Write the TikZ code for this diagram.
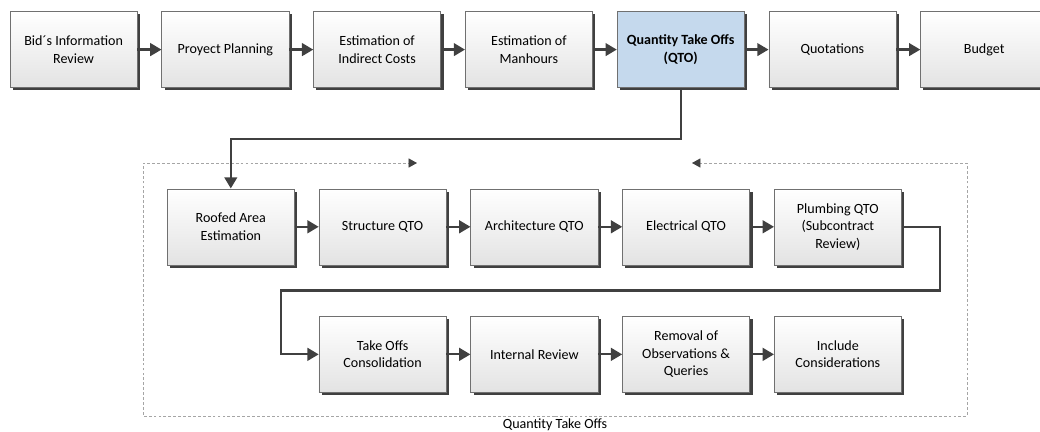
\documentclass[tikz,border=0pt]{standalone}
\usepackage{fontspec}
\setmainfont{Carlito}
\usetikzlibrary{positioning, arrows.meta, calc, shadows}
\definecolor{boxline}{RGB}{112,112,112}
\definecolor{arrowgray}{RGB}{64,64,64}
\definecolor{qtoblue}{RGB}{197,217,237}
\definecolor{framegray}{RGB}{165,165,165}
\tikzset{
  takeoffs/.style={
	node distance=0.6cm, % gap between two boxes of a row
	every node/.style={font=\fontsize{10}{12.5}\selectfont},
	process/.style={draw=boxline, top color=white, bottom color=black!11, % light gray box
		minimum width=3.18cm, minimum height=1.9cm, inner sep=2pt, align=center,
		drop shadow={shadow xshift=2pt, shadow yshift=-2pt, fill=black!75, opacity=1}},
	current/.style={process, top color=qtoblue, bottom color=qtoblue, % the blue box
		font=\fontsize{10}{12.5}\selectfont\bfseries},
	flow/.style={draw=arrowgray, line width=1.6pt, -{Triangle[length=8pt,width=9pt]}}, % thick arrows
	frame/.style={draw=framegray, line width=0.6pt, dash pattern=on 2pt off 1.5pt,
		-{Triangle[length=6pt,width=6.5pt,color=arrowgray]}},
  }
}

\begin{document}
\begin{tikzpicture}[takeoffs]
\useasboundingbox (0,0) rectangle (26,-10.8);
% main process
\node[process] at (1.84,-1.24) (bid) {Bid´s Information\\Review};
\node[process, right=of bid] (plan) {Proyect Planning};
\node[process, right=of plan] (indirect) {Estimation of\\Indirect Costs};
\node[process, right=of indirect] (manhours) {Estimation of\\Manhours};
\node[current, right=of manhours] (qto) {Quantity Take Offs\\(QTO)};
\node[process, right=of qto] (quote) {Quotations};
\node[process, right=of quote] (budget) {Budget};
% quantity take offs
\node[process] at (5.77,-5.67) (roof) {Roofed Area\\Estimation};
\node[process, right=of roof] (struct) {Structure QTO};
\node[process, right=of struct] (arch) {Architecture QTO};
\node[process, right=of arch] (elec) {Electrical QTO};
\node[process, right=of elec] (plumb) {Plumbing QTO\\(Subcontract\\Review)};
\node[process, below=1.275cm of struct] (take) {Take Offs\\Consolidation};
\node[process, right=of take] (internal) {Internal Review};
\node[process, right=of internal] (removal) {Removal of\\Observations \&\\Queries};
\node[process, right=of removal] (include) {Include\\Considerations};
% dashed frame
\coordinate (frameSW) at (3.575,-10.4);
\coordinate (frameSE) at (24.175,-10.4);
\coordinate (frameL) at (10.425,-4.075);
\coordinate (frameR) at (17.3,-4.075);
\draw[frame] ($(frameSW)!.5!(frameSE)$) -- (frameSW) |- (frameL);
\draw[frame] ($(frameSW)!.5!(frameSE)$) -- (frameSE) |- (frameR);
\node[below=1pt of $(frameSW)!.5!(frameSE)$, inner sep=1pt] (framelabel) {Quantity Take Offs};
\draw[flow] (bid) -- (plan);
\draw[flow] (plan) -- (indirect);
\draw[flow] (indirect) -- (manhours);
\draw[flow] (manhours) -- (qto);
\draw[flow] (qto) -- (quote);
\draw[flow] (quote) -- (budget);
\draw[flow] (qto.south) -- ++(0,-1.275) -| (roof.north);
\draw[flow] (roof) -- (struct);
\draw[flow] (struct) -- (arch);
\draw[flow] (arch) -- (elec);
\draw[flow] (elec) -- (plumb);
\draw[flow] (plumb.east) -- ++(0.95,0) |- ($(struct.south)!.5!(take.north)$)
	-| ([xshift=-0.95cm]take.west) -- (take.west);
\draw[flow] (take) -- (internal);
\draw[flow] (internal) -- (removal);
\draw[flow] (removal) -- (include);
\end{tikzpicture}
\end{document}
